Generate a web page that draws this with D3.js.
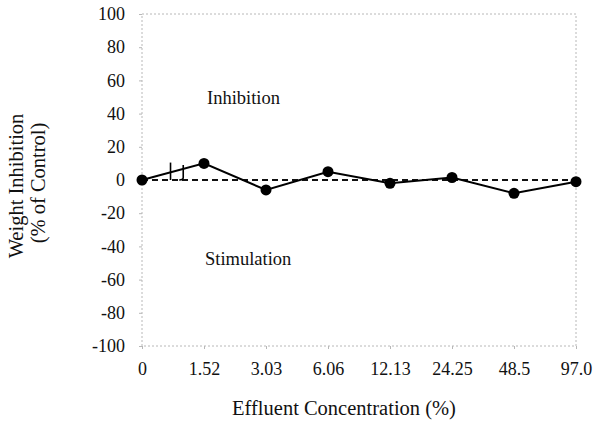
<!DOCTYPE html>
<html>
<head>
<meta charset="utf-8">
<script src="https://cdn.jsdelivr.net/npm/d3@7"></script>
<style>
  html, body { margin: 0; padding: 0; background: #fff; }
  svg { display: block; font-family: "Liberation Serif", "Times New Roman", serif; }
</style>
</head>
<body>
<svg id="chart" width="595" height="424"></svg>
<script>
// Effluent concentrations (%) shown as evenly spaced categories
const categories = ["0", "1.52", "3.03", "6.06", "12.13", "24.25", "48.5", "97.0"];
// Weight inhibition (% of control) at each concentration
const inhibition = [0, 10, -6, 5, -2, 1.5, -8, -1];
// Y-axis tick values
const yTicks = [-100, -80, -60, -40, -20, 0, 20, 40, 60, 80, 100];

const svg = d3.select("#chart");
const margin = { left: 142, right: 19, top: 14, bottom: 78 };
const W = 595, H = 424;

const x = d3.scalePoint().domain(categories).range([margin.left, W - margin.right]);
const y = d3.scaleLinear().domain([-100, 100]).range([H - margin.bottom, margin.top]);

const frameColor = "#b8b8b8";
const ink = "#111";

// Plot frame (light dotted border)
svg.append("rect")
  .attr("x", margin.left).attr("y", margin.top)
  .attr("width", W - margin.right - margin.left)
  .attr("height", H - margin.bottom - margin.top)
  .attr("fill", "none").attr("stroke", frameColor)
  .attr("stroke-width", 1).attr("stroke-dasharray", "2,2");

// Y axis (plain hyphen for negatives)
const yAxis = svg.append("g")
  .attr("transform", `translate(${margin.left},0)`)
  .call(d3.axisLeft(y).tickValues(yTicks).tickSize(3).tickPadding(14).tickFormat(d => String(d)));
yAxis.select(".domain").remove();
yAxis.selectAll(".tick line").attr("stroke", frameColor);
yAxis.selectAll(".tick text")
  .attr("font-family", "Liberation Serif, Times New Roman, serif")
  .attr("font-size", 18).attr("fill", ink);

// X axis
const xAxis = svg.append("g")
  .attr("transform", `translate(0,${H - margin.bottom})`)
  .call(d3.axisBottom(x).tickSize(3).tickPadding(13));
xAxis.select(".domain").remove();
xAxis.selectAll(".tick line").attr("stroke", frameColor);
xAxis.selectAll(".tick text")
  .attr("font-family", "Liberation Serif, Times New Roman, serif")
  .attr("font-size", 18).attr("fill", ink);

// Zero reference line
svg.append("line")
  .attr("x1", x(categories[0])).attr("x2", x(categories[categories.length - 1]))
  .attr("y1", y(0)).attr("y2", y(0))
  .attr("stroke", ink).attr("stroke-width", 2).attr("stroke-dasharray", "6,4");

// Data line
const pts = categories.map((c, i) => ({ c, v: inhibition[i] }));
svg.append("path")
  .datum(pts)
  .attr("fill", "none").attr("stroke", "#000").attr("stroke-width", 2)
  .attr("d", d3.line().x(d => x(d.c)).y(d => y(d.v)));

// Axis break marks between the control and the first concentration
const step = x.step();
const b1 = x(categories[0]) + step * 0.46;
const b2 = x(categories[0]) + step * 0.665;
svg.append("path")
  .attr("fill", "none").attr("stroke", "#000").attr("stroke-width", 1.6)
  .attr("d", `M${b1},${y(0)} L${b1},${y(10.5)}`);
svg.append("path")
  .attr("fill", "none").attr("stroke", "#000").attr("stroke-width", 1.6)
  .attr("d", `M${b2},${y(9)} L${b2},${y(1.5)} Q${b2},${y(0)} ${b2 - 4},${y(0)}`);

// Data points
svg.append("g").selectAll("circle")
  .data(pts).join("circle")
  .attr("cx", d => x(d.c)).attr("cy", d => y(d.v))
  .attr("r", 5.5).attr("fill", "#000");

// Region annotations
svg.append("text")
  .attr("x", x("1.52") + 3).attr("y", y(46))
  .attr("font-size", 18.5).attr("fill", ink)
  .text("Inhibition");
svg.append("text")
  .attr("x", x("1.52") + 1).attr("y", y(-51))
  .attr("font-size", 18.5).attr("fill", ink)
  .text("Stimulation");

// Axis titles
svg.append("text")
  .attr("x", 344)
  .attr("y", 415)
  .attr("text-anchor", "middle")
  .attr("font-size", 20.5).attr("fill", ink)
  .text("Effluent Concentration (%)");

const yTitle = svg.append("text")
  .attr("transform", `translate(0,${(y(100) + y(-100)) / 2}) rotate(-90)`)
  .attr("text-anchor", "middle")
  .attr("font-size", 20.5).attr("fill", ink);
yTitle.append("tspan").attr("x", -6).attr("y", 23).text("Weight Inhibition");
yTitle.append("tspan").attr("x", -3).attr("y", 45).text("(% of Control)");
</script>
</body>
</html>
